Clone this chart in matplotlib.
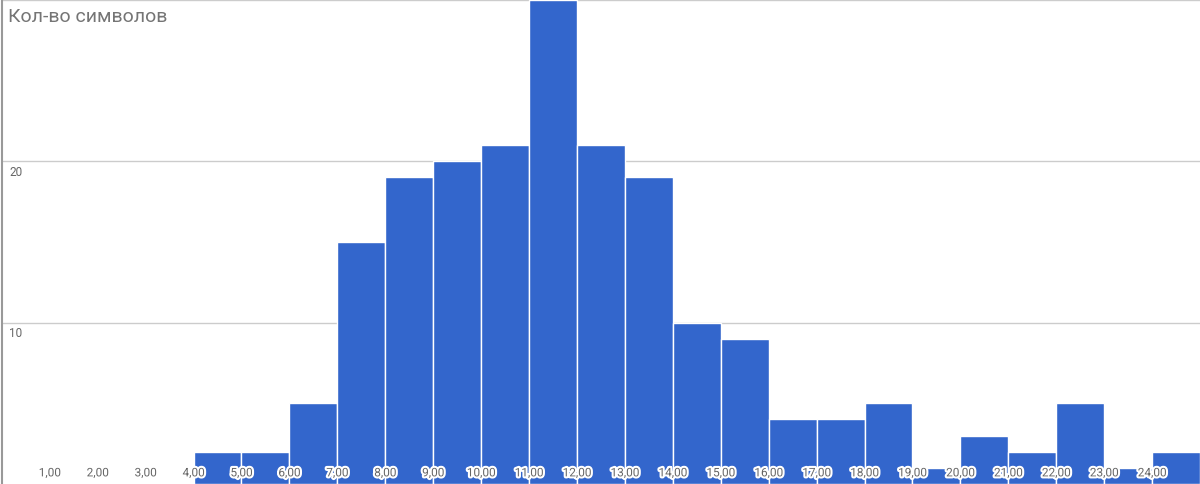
import numpy as np
import matplotlib.pyplot as plt
import matplotlib.patheffects as pe
import matplotlib.transforms as mtransforms

plt.rcParams['font.family'] = ['Roboto', 'DejaVu Sans']

# Histogram bins (left edges) and counts
bin_left = np.arange(4, 25)
counts = [2, 2, 5, 15, 19, 20, 21, 30, 21, 19, 10, 9, 4, 4, 5, 1, 3, 2, 5, 1, 2]

x_ticks = np.arange(1, 25)
x_labels = [f'{v},00' for v in x_ticks]
y_ticks = [10, 20, 30]

title = 'Кол-во символов'

fig = plt.figure(figsize=(12, 4.85), dpi=100)
ax = fig.add_axes([0.0015, 0.0, 0.9985, 0.998])

ax.bar(bin_left, counts, width=1.0, align='edge',
       color='#3366cc', edgecolor='white', linewidth=1.0, zorder=2)

ax.set_xlim(0, 25)
ax.set_ylim(0, 30)

# gridlines behind bars
for yv in y_ticks:
    ax.axhline(yv, color='#cccccc', linewidth=1.0, zorder=1)

for s in ['top', 'right', 'bottom']:
    ax.spines[s].set_visible(False)
ax.spines['left'].set_color('#999999')
ax.spines['left'].set_linewidth(1.5)
ax.set_xticks([])
ax.set_yticks([])

# x tick labels drawn inside the plot with white halo
trans = mtransforms.blended_transform_factory(ax.transData, ax.transAxes)
halo = [pe.withStroke(linewidth=3, foreground='white')]
for xv, lab in zip(x_ticks, x_labels):
    ax.text(xv, 0.023, lab, transform=trans, ha='center', va='center',
            fontsize=8.5, color='#666666', zorder=5, path_effects=halo)

# y labels just under gridlines
trans_y = mtransforms.blended_transform_factory(ax.transAxes, ax.transData)
for yv in y_ticks[:-1]:
    ax.text(0.006, yv - 0.2, str(yv), transform=trans_y, ha='left', va='top',
            fontsize=8.5, color='#666666', zorder=5)

ax.text(0.005, 0.985, title, transform=ax.transAxes, ha='left', va='top',
        fontsize=14, color='#757575', zorder=5)

plt.savefig('out.png', dpi=100)
